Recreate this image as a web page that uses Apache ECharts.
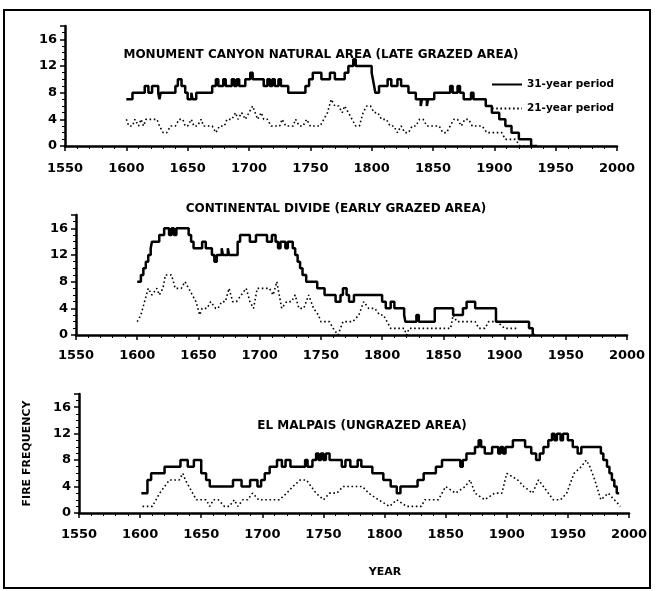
<!DOCTYPE html>
<html>
<head>
<meta charset="utf-8">
<script src="https://cdn.jsdelivr.net/npm/echarts@6/dist/echarts.min.js"></script>
<style>
  html, body { margin: 0; padding: 0; background: #fff; }
  #chart { width: 658px; height: 591px; }
</style>
</head>
<body>
<div id="chart"></div>
<script>
// [year, fires]
const mcSolid = [[1600,7],[1605,8],[1615,9],[1618,8],[1621,9],[1626,8],[1627,7],[1628,8],[1640,9],[1642,10],[1645,9],[1648,8],[1650,7],[1653,8],[1654,7],[1657,8],[1670,9],[1673,10],[1675,9],[1679,10],[1681,9],[1686,10],[1688,9],[1690,10],[1692,9],[1697,10],[1701,11],[1703,10],[1712,9],[1715,10],[1717,9],[1719,10],[1721,9],[1724,10],[1726,9],[1732,8],[1746,9],[1749,10],[1752,11],[1759,10],[1766,11],[1770,10],[1778,11],[1781,12],[1785,13],[1787,12],[1800,11],[1801,10],[1802,9],[1803,8],[1806,9],[1813,10],[1816,9],[1821,10],[1824,9],[1830,8],[1836,7],[1840,6],[1841,7],[1845,6],[1846,7],[1851,8],[1864,9],[1866,8],[1870,9],[1872,8],[1875,7],[1881,8],[1883,7],[1893,6],[1898,5],[1904,4],[1909,3],[1914,2],[1920,1],[1930,0],[1935,0]];
const mcDotted = [[1600,4],[1602,3],[1605,3],[1607,4],[1610,3],[1612,4],[1614,3],[1616,4],[1622,4],[1625,4],[1627,3],[1630,2],[1633,2],[1636,3],[1640,3],[1643,4],[1646,4],[1648,3],[1650,3],[1653,4],[1655,3],[1658,3],[1661,4],[1663,3],[1667,3],[1670,3],[1673,2],[1676,3],[1680,3],[1682,4],[1686,4],[1689,5],[1691,4],[1694,5],[1697,4],[1700,5],[1703,6],[1705,5],[1707,4],[1710,5],[1712,4],[1715,4],[1718,3],[1722,3],[1725,3],[1727,4],[1730,3],[1733,3],[1736,3],[1738,4],[1741,3],[1744,3],[1747,4],[1750,3],[1754,3],[1758,3],[1761,4],[1764,5],[1767,7],[1770,6],[1773,6],[1776,5],[1778,6],[1781,5],[1784,4],[1787,3],[1790,3],[1793,5],[1796,6],[1799,6],[1802,5],[1805,5],[1808,4],[1812,4],[1815,3],[1818,3],[1821,2],[1824,3],[1827,2],[1830,2],[1833,3],[1836,3],[1839,4],[1842,4],[1845,3],[1848,3],[1851,3],[1855,3],[1858,2],[1861,2],[1864,3],[1867,4],[1870,4],[1873,3],[1876,4],[1879,4],[1882,3],[1886,3],[1890,3],[1894,2],[1898,2],[1902,2],[1906,2],[1909,1],[1913,1],[1917,1],[1921,0],[1930,0]];

const cdSolid = [[1600,8],[1603,9],[1605,10],[1607,11],[1609,12],[1611,13],[1612,14],[1618,15],[1622,16],[1626,15],[1628,16],[1630,15],[1632,16],[1642,15],[1644,14],[1646,13],[1653,14],[1656,13],[1661,12],[1663,11],[1665,12],[1669,13],[1670,12],[1674,13],[1675,12],[1682,14],[1684,15],[1692,14],[1697,15],[1706,14],[1710,15],[1713,14],[1715,13],[1717,14],[1721,13],[1723,14],[1727,13],[1729,12],[1731,11],[1733,10],[1735,9],[1738,8],[1747,7],[1753,6],[1762,5],[1766,6],[1768,7],[1771,6],[1773,5],[1777,6],[1800,5],[1803,4],[1807,5],[1810,4],[1818,3],[1819,2],[1828,3],[1830,2],[1843,4],[1858,3],[1866,4],[1869,5],[1876,4],[1893,2],[1920,1],[1923,0],[1925,0]];
const cdDotted = [[1600,2],[1603,3],[1606,5],[1609,7],[1612,6],[1616,7],[1618,6],[1621,7],[1623,9],[1628,9],[1631,7],[1636,7],[1639,8],[1642,7],[1645,6],[1648,5],[1651,3],[1653,4],[1657,4],[1660,5],[1664,4],[1666,4],[1669,5],[1672,5],[1675,7],[1678,5],[1681,5],[1685,6],[1689,7],[1692,5],[1695,4],[1698,7],[1708,7],[1711,6],[1714,8],[1718,4],[1722,5],[1726,5],[1729,6],[1732,4],[1736,4],[1740,6],[1744,4],[1748,3],[1750,2],[1757,2],[1760,1],[1764,0],[1768,2],[1776,2],[1781,3],[1785,5],[1789,4],[1794,4],[1798,3],[1801,3],[1804,2],[1807,1],[1818,1],[1820,0],[1822,1],[1856,1],[1858,3],[1861,2],[1876,2],[1879,1],[1884,1],[1887,2],[1894,2],[1900,1],[1910,1]];

const emSolid = [[1601,3],[1606,5],[1609,6],[1620,7],[1633,8],[1639,7],[1644,8],[1650,6],[1654,5],[1657,4],[1676,5],[1683,4],[1690,5],[1696,4],[1699,5],[1702,6],[1706,7],[1712,8],[1716,7],[1719,8],[1723,7],[1735,8],[1737,7],[1741,8],[1744,9],[1746,8],[1748,9],[1750,8],[1752,9],[1755,8],[1765,7],[1768,8],[1772,7],[1778,8],[1781,7],[1790,6],[1799,5],[1805,4],[1810,3],[1813,4],[1827,5],[1832,6],[1842,7],[1847,8],[1862,7],[1864,8],[1867,9],[1874,10],[1877,11],[1879,10],[1882,9],[1888,10],[1893,9],[1895,10],[1897,9],[1899,10],[1905,11],[1915,10],[1920,9],[1924,8],[1927,9],[1930,10],[1934,11],[1937,12],[1939,11],[1941,12],[1944,11],[1946,12],[1950,11],[1954,10],[1958,9],[1961,10],[1977,9],[1979,8],[1982,7],[1984,6],[1986,5],[1988,4],[1990,3],[1992,3]];
const emDotted = [[1602,1],[1610,1],[1613,2],[1616,3],[1620,4],[1624,5],[1628,5],[1632,5],[1635,6],[1637,5],[1640,4],[1643,3],[1646,2],[1650,2],[1654,2],[1657,1],[1660,2],[1664,2],[1669,1],[1673,1],[1677,2],[1680,1],[1684,2],[1688,2],[1692,3],[1697,2],[1702,2],[1706,2],[1710,2],[1714,2],[1720,3],[1725,4],[1731,5],[1736,5],[1740,4],[1744,3],[1750,2],[1755,3],[1761,3],[1766,4],[1774,4],[1782,4],[1787,3],[1795,2],[1804,1],[1810,2],[1818,1],[1826,1],[1830,1],[1833,2],[1844,2],[1850,4],[1858,3],[1866,4],[1870,5],[1874,3],[1882,2],[1890,3],[1896,3],[1900,6],[1909,5],[1914,4],[1921,3],[1926,5],[1930,4],[1938,2],[1944,2],[1949,3],[1955,6],[1961,7],[1965,8],[1968,7],[1972,5],[1977,2],[1983,3],[1988,2],[1993,1]];

const xTicks = { min: 1550, max: 2000, interval: 50 };
const yTicks = { min: 0, max: 18, interval: 4 };
const titles = [
  'MONUMENT CANYON NATURAL AREA (LATE GRAZED AREA)',
  'CONTINENTAL DIVIDE (EARLY GRAZED AREA)',
  'EL MALPAIS (UNGRAZED AREA)'
];
const legendNames = ['31-year period', '21-year period'];

const FONT = 'DejaVu Sans';
const ink = '#000';

const grids = [
  { left: 65, width: 552, top: 26, height: 120 },
  { left: 76, width: 551, top: 215, height: 120 },
  { left: 79, width: 550, top: 394, height: 119 }
];
const labelMargins = [16, 14, 15];

const chart = echarts.init(document.getElementById('chart'), null, { renderer: 'canvas' });

const xAxes = grids.map((g, i) => ({
  type: 'value',
  gridIndex: i,
  min: xTicks.min,
  max: xTicks.max,
  interval: xTicks.interval,
  axisLine: { lineStyle: { color: ink, width: 2.5 } },
  axisTick: { length: 5, lineStyle: { color: ink, width: 1.5 } },
  minorTick: { show: true, splitNumber: 5, length: 3, lineStyle: { color: ink, width: 1 } },
  splitLine: { show: false },
  axisLabel: {
    color: ink, fontFamily: FONT, fontWeight: 'bold', fontSize: 13, margin: labelMargins[i],
    formatter: (v) => String(v)
  }
}));

const yAxes = grids.map((g, i) => ({
  type: 'value',
  gridIndex: i,
  min: yTicks.min,
  max: yTicks.max,
  interval: yTicks.interval,
  axisLine: { show: true, lineStyle: { color: ink, width: 2.5 } },
  axisTick: { show: true, length: 5, lineStyle: { color: ink, width: 1.5 } },
  minorTick: { show: true, splitNumber: 4, length: 3, lineStyle: { color: ink, width: 1 } },
  splitLine: { show: false },
  axisLabel: {
    color: ink, fontFamily: FONT, fontWeight: 'bold', fontSize: 13, margin: 8,
    formatter: (v) => (v > 16 ? '' : String(v))
  },
  name: i === 2 ? 'FIRE FREQUENCY' : '',
  nameLocation: 'middle',
  nameRotate: 90,
  nameGap: 46,
  nameTextStyle: { color: ink, fontFamily: FONT, fontWeight: 'bold', fontSize: 11 }
}));

const pairs = [[mcSolid, mcDotted], [cdSolid, cdDotted], [emSolid, emDotted]];
const series = [];
pairs.forEach(([solid, dotted], i) => {
  series.push({
    name: legendNames[0],
    type: 'line',
    xAxisIndex: i,
    yAxisIndex: i,
    data: solid,
    step: 'end',
    symbol: 'none',
    itemStyle: { color: ink },
    lineStyle: { color: ink, width: 2.5 },
    animation: false
  });
  series.push({
    name: legendNames[1],
    type: 'line',
    xAxisIndex: i,
    yAxisIndex: i,
    data: dotted,
    symbol: 'none',
    itemStyle: { color: ink },
    lineStyle: { color: ink, width: 1.6, type: [1.6, 2.6] },
    animation: false
  });
});

const titleCenters = [[321, 55], [336, 209], [362, 426]];

chart.setOption({
  backgroundColor: '#fff',
  animation: false,
  color: [ink],
  grid: grids,
  xAxis: xAxes,
  yAxis: yAxes,
  legend: {
    data: legendNames,
    orient: 'vertical',
    left: 486,
    top: 74,
    itemWidth: 30,
    itemHeight: 10,
    itemGap: 13,
    selectedMode: false,
    itemStyle: { opacity: 0 },
    textStyle: { color: ink, fontFamily: FONT, fontWeight: 'bold', fontSize: 10.5 }
  },
  graphic: [
    {
      type: 'rect',
      shape: { x: 4, y: 10, width: 646, height: 578 },
      style: { fill: 'none', stroke: ink, lineWidth: 2 },
      silent: true
    },
    ...titles.map((t, i) => ({
      type: 'text',
      x: titleCenters[i][0],
      y: titleCenters[i][1],
      style: {
        text: t, fill: ink, font: 'bold 12px "DejaVu Sans"',
        textAlign: 'center', textVerticalAlign: 'middle'
      }
    })),
    {
      type: 'text',
      x: 385,
      y: 572,
      style: {
        text: 'YEAR', fill: ink, font: 'bold 11px "DejaVu Sans"',
        textAlign: 'center', textVerticalAlign: 'middle'
      }
    }
  ],
  series
});
</script>
</body>
</html>
